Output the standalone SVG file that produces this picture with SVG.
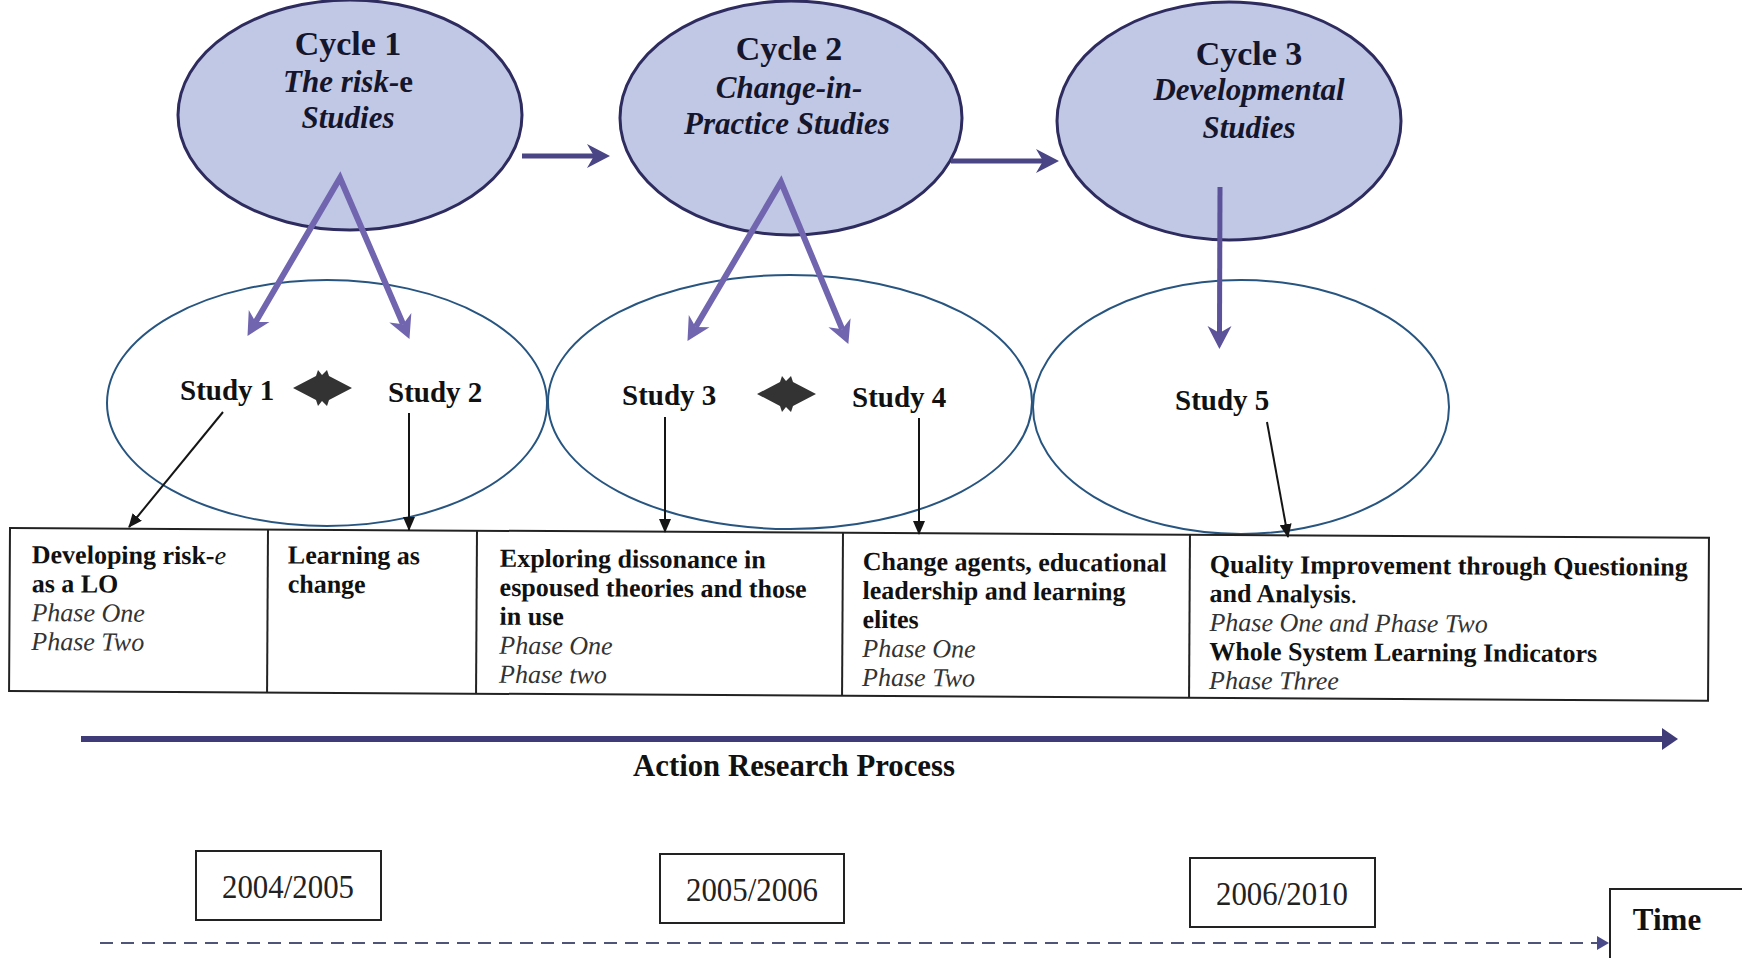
<svg xmlns="http://www.w3.org/2000/svg" width="1742" height="958" viewBox="0 0 1742 958">
  <style>
    .cycle ellipse { fill: #c0c8e6; stroke: #2e2b5e; stroke-width: 3; }
    .cyc-title { font: bold 34px 'Liberation Serif', 'Times New Roman', serif; fill: #15152b; text-anchor: middle; }
    .cyc-sub { font: italic bold 31px 'Liberation Serif', 'Times New Roman', serif; fill: #15152b; text-anchor: middle; }
    .upright { font-style: normal; }
    .study ellipse { fill: none; stroke: #275580; stroke-width: 2; }
    .study-label { font: bold 29px 'Liberation Serif', 'Times New Roman', serif; fill: #111; }
    .flow { fill: none; stroke-linejoin: miter; stroke-miterlimit: 20; }
    .flow-dark { stroke: #4a4585; stroke-width: 5; marker-end: url(#headDark); }
    .flow-light { stroke: #7165af; stroke-width: 6; marker-start: url(#headLight); marker-end: url(#headLight); }
    .flow-mid { stroke: #5b5299; stroke-width: 5; marker-end: url(#headMid); }
    .pointer { stroke: #151515; stroke-width: 2; fill: none; marker-end: url(#tri); }
    .cell { fill: none; stroke: #222; stroke-width: 2; }
    .t-bold { font: bold 26px 'Liberation Serif', 'Times New Roman', serif; fill: #111; }
    .t-ital { font: italic 26px 'Liberation Serif', 'Times New Roman', serif; fill: #333; }
    .year { font: 34px 'Liberation Serif', 'Times New Roman', serif; fill: #222; text-anchor: middle; }
    .box { fill: #fff; stroke: #222; stroke-width: 2; }
    .caption { font: bold 31px 'Liberation Serif', 'Times New Roman', serif; fill: #111; text-anchor: middle; }
  </style>
  <defs>
    <!-- notched arrowheads for the purple flow arrows; refX sits at the notch -->
    <marker id="headDark" viewBox="0 0 24 26" refX="7" refY="13" markerWidth="24" markerHeight="26" markerUnits="userSpaceOnUse" orient="auto-start-reverse">
      <path d="M23,13 L0,1 L7,13 L0,25 Z" fill="#4a4585"/>
    </marker>
    <marker id="headLight" viewBox="0 0 24 26" refX="7" refY="13" markerWidth="24" markerHeight="26" markerUnits="userSpaceOnUse" orient="auto-start-reverse">
      <path d="M23,13 L0,1 L7,13 L0,25 Z" fill="#7165af"/>
    </marker>
    <marker id="headMid" viewBox="0 0 24 26" refX="7" refY="13" markerWidth="24" markerHeight="26" markerUnits="userSpaceOnUse" orient="auto-start-reverse">
      <path d="M23,13 L0,1 L7,13 L0,25 Z" fill="#5b5299"/>
    </marker>
    <!-- small solid triangle for the study-to-table pointers -->
    <marker id="tri" viewBox="0 0 14 12" refX="13" refY="6" markerWidth="14" markerHeight="12" markerUnits="userSpaceOnUse" orient="auto">
      <path d="M0,0 L14,6 L0,12 Z" fill="#151515"/>
    </marker>
    <marker id="processHead" viewBox="0 0 16 22" refX="2" refY="11" markerWidth="16" markerHeight="22" markerUnits="userSpaceOnUse" orient="auto">
      <path d="M0,0 L16,11 L0,22 Z" fill="#3e3b78"/>
    </marker>
    <marker id="timeHead" viewBox="0 0 12 14" refX="2" refY="7" markerWidth="12" markerHeight="14" markerUnits="userSpaceOnUse" orient="auto">
      <path d="M0,0 L12,7 L0,14 Z" fill="#4a4a8a"/>
    </marker>
    <!-- double-pointed link between paired studies -->
    <path id="pairLink" d="M-29,0 L-6,-12 L-4,-18 L0,-13 L5,-18 L7,-12 L30,0 L7,12 L5,18 L0,13 L-4,18 L-6,12 Z" fill="#333"/>
  </defs>

  <rect width="1742" height="958" fill="#fff"/>

  <!-- study groupings -->
  <g id="study-group-1" class="study">
    <ellipse cx="327" cy="403" rx="220" ry="123"/>
    <text class="study-label" x="180" y="400">Study 1</text>
    <text class="study-label" x="388" y="402">Study 2</text>
    <use href="#pairLink" x="322" y="388"/>
  </g>
  <g id="study-group-2" class="study">
    <ellipse cx="790" cy="402" rx="242" ry="127"/>
    <text class="study-label" x="622" y="405">Study 3</text>
    <text class="study-label" x="852" y="407">Study 4</text>
    <use href="#pairLink" x="786" y="394"/>
  </g>
  <g id="study-group-3" class="study">
    <ellipse cx="1241" cy="407" rx="208" ry="127"/>
    <text class="study-label" x="1175" y="410">Study 5</text>
  </g>

  <!-- research cycles -->
  <g id="cycle-1" class="cycle">
    <ellipse cx="350" cy="115" rx="172" ry="115"/>
    <text class="cyc-title" x="348" y="55">Cycle 1</text>
    <text class="cyc-sub" x="348" y="92">The risk-<tspan class="upright">e</tspan></text>
    <text class="cyc-sub" x="348" y="128">Studies</text>
  </g>
  <g id="cycle-2" class="cycle">
    <ellipse cx="791" cy="118" rx="171" ry="117"/>
    <text class="cyc-title" x="789" y="60">Cycle 2</text>
    <text class="cyc-sub" x="789" y="98">Change-in-</text>
    <text class="cyc-sub" x="787" y="134">Practice Studies</text>
  </g>
  <g id="cycle-3" class="cycle">
    <ellipse cx="1229" cy="121" rx="172" ry="119"/>
    <text class="cyc-title" x="1249" y="65">Cycle 3</text>
    <text class="cyc-sub" x="1249" y="100">Developmental</text>
    <text class="cyc-sub" x="1249" y="138">Studies</text>
  </g>

  <!-- outcomes table -->
  <g id="outcomes-table" transform="rotate(0.33 10 528)">
    <rect class="cell" x="10" y="528" width="1699" height="163"/>
    <line class="cell" x1="268" y1="528" x2="268" y2="691"/>
    <line class="cell" x1="477" y1="528" x2="477" y2="691"/>
    <line class="cell" x1="843" y1="528" x2="843" y2="691"/>
    <line class="cell" x1="1190" y1="528" x2="1190" y2="691"/>

    <g id="outcome-1">
      <text class="t-bold" x="32" y="563">Developing risk-<tspan font-style="italic" font-weight="normal">e</tspan></text>
      <text class="t-bold" x="32" y="592">as a LO</text>
      <text class="t-ital" x="32" y="621">Phase One</text>
      <text class="t-ital" x="32" y="650">Phase Two</text>
    </g>
    <g id="outcome-2">
      <text class="t-bold" x="288" y="562">Learning as</text>
      <text class="t-bold" x="288" y="591">change</text>
    </g>
    <g id="outcome-3">
      <text class="t-bold" x="500" y="564">Exploring dissonance in</text>
      <text class="t-bold" x="500" y="593">espoused theories and those</text>
      <text class="t-bold" x="500" y="622">in use</text>
      <text class="t-ital" x="500" y="651">Phase One</text>
      <text class="t-ital" x="500" y="680">Phase two</text>
    </g>
    <g id="outcome-4">
      <text class="t-bold" x="863" y="565">Change agents, educational</text>
      <text class="t-bold" x="863" y="594">leadership and learning</text>
      <text class="t-bold" x="863" y="623">elites</text>
      <text class="t-ital" x="863" y="652">Phase One</text>
      <text class="t-ital" x="863" y="681">Phase Two</text>
    </g>
    <g id="outcome-5">
      <text class="t-bold" x="1210" y="566">Quality Improvement through Questioning</text>
      <text class="t-bold" x="1210" y="595">and Analysis<tspan font-weight="normal">.</tspan></text>
      <text class="t-ital" x="1210" y="624">Phase One and Phase Two</text>
      <text class="t-bold" x="1210" y="653">Whole System Learning Indicators</text>
      <text class="t-ital" x="1210" y="682">Phase Three</text>
    </g>
  </g>

  <!-- connectors -->
  <g id="connectors">
    <path class="flow flow-dark" d="M522,156 L594,156"/>
    <path class="flow flow-dark" d="M951,161 L1043,161"/>
    <path class="flow flow-light" d="M255.6,322.1 L340,178 L403.1,324.2"/>
    <path class="flow flow-light" d="M695.6,327.1 L781,182 L842.2,329.2"/>
    <path class="flow flow-mid" d="M1220,187 L1219.5,333"/>

    <line class="pointer" x1="223" y1="412" x2="129" y2="527"/>
    <line class="pointer" x1="409" y1="413" x2="409" y2="530"/>
    <line class="pointer" x1="665" y1="417" x2="665" y2="532"/>
    <line class="pointer" x1="919" y1="418" x2="919" y2="534"/>
    <line class="pointer" x1="1267" y1="422" x2="1288" y2="537"/>

    <line x1="81" y1="739" x2="1664" y2="739" stroke="#3e3b78" stroke-width="6" marker-end="url(#processHead)"/>
    <line x1="100" y1="943" x2="1599" y2="943" stroke="#4f5578" stroke-width="2" stroke-dasharray="13 8" marker-end="url(#timeHead)"/>
  </g>

  <text id="process-label" class="caption" x="794" y="776" textLength="322" lengthAdjust="spacingAndGlyphs">Action Research Process</text>

  <!-- timeline periods -->
  <g id="period-1">
    <rect class="box" x="196" y="851" width="185" height="69"/>
    <text class="year" x="288" y="898" textLength="132" lengthAdjust="spacingAndGlyphs">2004/2005</text>
  </g>
  <g id="period-2">
    <rect class="box" x="660" y="854" width="184" height="69"/>
    <text class="year" x="752" y="901" textLength="132" lengthAdjust="spacingAndGlyphs">2005/2006</text>
  </g>
  <g id="period-3">
    <rect class="box" x="1190" y="858" width="185" height="69"/>
    <text class="year" x="1282" y="905" textLength="132" lengthAdjust="spacingAndGlyphs">2006/2010</text>
  </g>
  <g id="time-label">
    <rect class="box" x="1610" y="889" width="150" height="90"/>
    <text class="caption" x="1667" y="930">Time</text>
  </g>
</svg>
